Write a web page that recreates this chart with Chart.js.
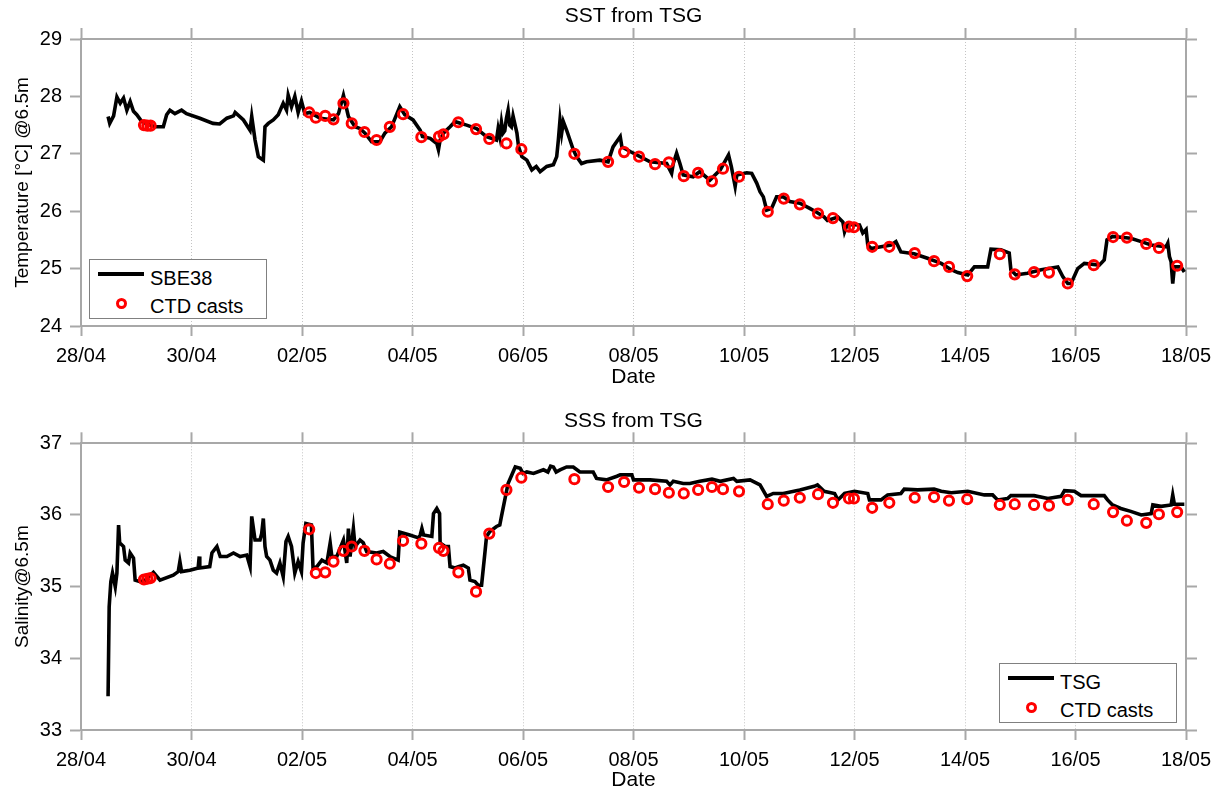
<!DOCTYPE html>
<html><head><meta charset="utf-8">
<script src="https://cdn.jsdelivr.net/npm/chart.js@4.4.1/dist/chart.umd.min.js"></script>
<style>
html,body{margin:0;padding:0;background:#fff;overflow:hidden;}
#wrap{position:relative;width:1221px;height:793px;overflow:hidden;font-family:"Liberation Sans",Arial,sans-serif;}
canvas{position:absolute;left:0;}
.lg{position:absolute;width:178px;height:60px;background:#fff;border:1px solid #808080;box-sizing:border-box;font-size:20px;line-height:24px;color:#000;}
.lg .ln{position:absolute;left:8px;top:12px;width:46px;height:3.5px;background:#000;}
.lg .ci{position:absolute;left:26px;top:38px;width:11px;height:11px;border:3px solid #ff0000;border-radius:50%;box-sizing:border-box;}
.lg .t1{position:absolute;left:60px;top:6px;white-space:nowrap;}
.lg .t2{position:absolute;left:60px;top:34px;white-space:nowrap;}
</style></head>
<body><div id="wrap">
<canvas id="c1" width="1221" height="400" style="top:0"></canvas>
<canvas id="c2" width="1221" height="393" style="top:400px"></canvas>
<div class="lg" style="left:89px;top:259px"><div class="ln"></div><div class="t1">SBE38</div><div class="ci"></div><div class="t2">CTD casts</div></div>
<div class="lg" style="left:999px;top:663px"><div class="ln"></div><div class="t1">TSG</div><div class="ci"></div><div class="t2">CTD casts</div></div>
</div>
<script>
// x values are days since 28/04 00:00
const dateTicks = ['28/04','30/04','02/05','04/05','06/05','08/05','10/05','12/05','14/05','16/05','18/05'];
const tempTicks = [24,25,26,27,28,29];
const salTicks = [33,34,35,36,37];

const sstDays = [0.49,0.52,0.59,0.65,0.71,0.77,0.83,0.89,0.95,1.01,1.10,1.19,1.34,1.49,1.55,1.61,1.70,1.82,1.91,2.15,2.39,2.51,2.64,2.76,2.79,2.94,3.06,3.09,3.15,3.21,3.30,3.33,3.39,3.48,3.57,3.66,3.72,3.75,3.81,3.87,3.93,3.99,4.05,4.14,4.33,4.57,4.66,4.75,4.84,4.96,5.05,5.14,5.26,5.41,5.50,5.62,5.77,5.86,6.01,6.14,6.18,6.32,6.44,6.47,6.50,6.56,6.68,6.77,6.98,7.16,7.34,7.52,7.55,7.58,7.61,7.64,7.67,7.70,7.73,7.76,7.79,7.82,7.89,7.92,7.98,8.07,8.16,8.24,8.31,8.43,8.55,8.61,8.64,8.67,8.70,8.73,8.79,8.85,8.91,8.97,9.06,9.15,9.39,9.54,9.63,9.76,9.79,9.94,10.12,10.30,10.60,10.69,10.72,10.78,10.84,10.90,11.08,11.20,11.38,11.57,11.72,11.77,11.84,11.87,12.05,12.14,12.23,12.29,12.35,12.41,12.50,12.59,12.71,12.83,13.01,13.19,13.30,13.45,13.51,13.70,13.79,13.82,13.87,14.09,14.15,14.21,14.24,14.30,14.48,14.66,14.75,14.84,15.08,15.32,15.57,15.75,15.87,16.05,16.17,16.41,16.47,16.65,16.80,16.83,16.92,17.13,17.38,17.68,17.77,17.86,17.92,18.04,18.16,18.43,18.52,18.57,18.67,19.00,19.19,19.37,19.64,19.67,19.70,19.73,19.76,19.79,19.91,19.97];
const sstVals = [27.65,27.53,27.66,27.99,27.88,27.97,27.76,27.91,27.74,27.68,27.56,27.52,27.47,27.47,27.68,27.76,27.70,27.76,27.70,27.62,27.53,27.52,27.62,27.66,27.72,27.59,27.41,27.65,27.24,26.95,26.89,27.47,27.53,27.59,27.68,27.88,27.76,28.02,27.82,28.00,27.72,27.92,27.70,27.72,27.62,27.59,27.70,28.02,27.65,27.47,27.44,27.36,27.21,27.21,27.36,27.47,27.82,27.68,27.59,27.41,27.30,27.27,27.18,27.07,27.24,27.36,27.47,27.56,27.50,27.44,27.30,27.24,27.44,27.30,27.55,27.36,27.40,27.62,27.76,27.50,27.47,27.66,27.36,27.12,26.95,26.89,26.72,26.78,26.69,26.78,26.81,26.95,27.24,27.59,27.36,27.56,27.41,27.24,27.07,26.95,26.83,26.86,26.89,26.86,27.12,27.30,27.12,27.04,26.95,26.86,26.83,26.66,26.83,27.01,26.83,26.63,26.60,26.69,26.54,26.72,26.98,26.78,26.43,26.63,26.67,26.66,26.49,26.34,26.25,26.02,26.05,26.25,26.25,26.17,26.14,26.05,25.99,25.90,25.84,25.90,25.81,25.64,25.77,25.76,25.62,25.68,25.41,25.35,25.38,25.41,25.47,25.29,25.26,25.18,25.09,24.98,24.93,24.89,25.03,25.03,25.34,25.33,25.27,24.98,24.89,24.92,24.98,25.03,24.86,24.74,24.74,25.00,25.09,25.06,25.15,25.50,25.56,25.53,25.47,25.41,25.38,25.44,25.21,25.12,24.74,25.03,25.03,24.94];

const sssDays = [0.49,0.51,0.54,0.57,0.62,0.65,0.68,0.70,0.77,0.80,0.86,0.89,0.95,0.98,1.07,1.16,1.31,1.43,1.67,1.76,1.79,1.82,1.97,2.12,2.14,2.15,2.33,2.37,2.46,2.52,2.64,2.76,2.88,3.00,3.06,3.09,3.15,3.24,3.27,3.30,3.33,3.36,3.42,3.48,3.54,3.60,3.66,3.71,3.75,3.81,3.87,3.93,3.99,4.02,4.07,4.17,4.20,4.27,4.36,4.45,4.51,4.54,4.63,4.75,4.81,4.84,4.87,4.93,4.96,5.05,5.11,5.17,5.35,5.47,5.59,5.74,5.77,5.95,6.11,6.14,6.17,6.20,6.35,6.38,6.44,6.49,6.50,6.59,6.65,6.68,6.77,6.83,6.92,7.01,7.04,7.13,7.19,7.25,7.31,7.34,7.40,7.52,7.58,7.61,7.67,7.73,7.82,7.86,7.95,8.00,8.07,8.19,8.37,8.45,8.50,8.55,8.60,8.67,8.79,8.91,9.03,9.27,9.33,9.51,9.70,9.76,9.97,10.00,10.30,10.60,10.66,10.72,10.90,11.02,11.20,11.42,11.57,11.81,11.87,12.11,12.29,12.41,12.53,12.71,13.01,13.27,13.33,13.45,13.64,13.70,13.82,14.00,14.24,14.27,14.48,14.60,14.84,14.90,15.14,15.44,15.57,15.75,16.05,16.35,16.50,16.59,16.77,16.83,17.25,17.50,17.74,17.80,17.98,18.10,18.52,18.58,18.67,18.82,19.00,19.19,19.37,19.40,19.55,19.73,19.76,19.79,19.97];
const sssVals = [33.47,34.72,35.07,35.19,35.00,35.19,35.86,35.61,35.56,35.37,35.33,35.47,35.40,35.09,35.07,35.09,35.20,35.09,35.16,35.21,35.35,35.21,35.23,35.26,35.42,35.26,35.28,35.47,35.56,35.42,35.42,35.47,35.42,35.44,35.28,35.98,35.65,35.65,35.74,35.95,35.56,35.42,35.37,35.23,35.19,35.33,35.14,35.63,35.70,35.56,35.19,35.35,35.21,35.61,35.88,35.86,35.25,35.28,35.37,35.33,35.61,35.42,35.42,35.65,35.33,35.81,35.42,35.81,35.56,35.65,35.61,35.49,35.47,35.49,35.42,35.37,35.76,35.72,35.68,35.72,35.81,35.72,35.70,36.02,36.09,36.02,35.61,35.56,35.56,35.28,35.26,35.28,35.30,35.26,35.09,35.07,35.02,35.02,35.47,35.70,35.77,35.84,35.86,35.98,36.21,36.44,36.60,36.67,36.65,36.58,36.60,36.58,36.63,36.60,36.68,36.67,36.60,36.63,36.67,36.67,36.60,36.60,36.51,36.49,36.54,36.56,36.56,36.49,36.49,36.47,36.42,36.47,36.44,36.44,36.47,36.50,36.47,36.51,36.47,36.49,36.42,36.26,36.30,36.30,36.35,36.40,36.42,36.33,36.30,36.21,36.30,36.33,36.30,36.21,36.21,36.28,36.30,36.36,36.35,36.36,36.33,36.31,36.33,36.28,36.28,36.21,36.23,36.27,36.27,36.23,36.26,36.34,36.33,36.27,36.27,36.21,36.14,36.09,36.05,36.00,36.02,36.14,36.12,36.14,36.28,36.15,36.15];

const ctdDays = [1.14,1.20,1.26,4.13,4.25,4.42,4.57,4.75,4.90,5.13,5.35,5.59,5.83,6.16,6.48,6.56,6.83,7.15,7.39,7.70,7.97,8.93,9.54,9.83,10.10,10.39,10.64,10.91,11.17,11.42,11.62,11.91,12.43,12.72,13.01,13.34,13.61,13.90,13.99,14.32,14.63,15.09,15.44,15.71,16.04,16.63,16.90,17.25,17.52,17.86,18.33,18.68,18.93,19.28,19.51,19.84];
const ctdTemp = [27.50,27.49,27.49,27.72,27.63,27.66,27.60,27.88,27.53,27.38,27.24,27.47,27.69,27.29,27.30,27.34,27.55,27.43,27.26,27.18,27.08,27.00,26.86,27.03,26.95,26.82,26.85,26.61,26.67,26.52,26.74,26.60,25.99,26.22,26.12,25.96,25.88,25.73,25.72,25.38,25.38,25.27,25.13,25.03,24.87,25.25,24.90,24.94,24.93,24.74,25.06,25.55,25.54,25.43,25.36,25.05];
const ctdSal = [35.10,35.11,35.12,35.80,35.19,35.20,35.35,35.50,35.56,35.50,35.38,35.32,35.64,35.60,35.54,35.50,35.20,34.93,35.74,36.35,36.52,36.50,36.39,36.46,36.38,36.36,36.31,36.30,36.35,36.39,36.36,36.33,36.15,36.20,36.24,36.29,36.17,36.23,36.23,36.10,36.17,36.24,36.25,36.20,36.22,36.14,36.15,36.14,36.13,36.21,36.15,36.04,35.92,35.89,36.01,36.04];

const FAM = '"Liberation Sans", Arial, sans-serif';
const AX = '#a8a8a8';
Chart.defaults.font.family = FAM;
Chart.defaults.color = '#000';

function pts(xs, ys){ return xs.map((x,i)=>({x:x, y:ys[i]})); }

function makeChart(id, cfg){
  const tickVals = cfg.yTicks;
  return new Chart(document.getElementById(id), {
    type: 'line',
    data: { datasets: [
      { label: 'CTD casts', data: pts(ctdDays, cfg.ctd), showLine: false, order: 0,
        pointRadius: 4.6, pointHoverRadius: 4.6, pointBorderWidth: 3,
        pointBorderColor: '#ff0000', pointBackgroundColor: 'rgba(0,0,0,0)', borderColor: '#ff0000' },
      { label: cfg.lineLabel, data: pts(cfg.days, cfg.vals), order: 1,
        borderColor: '#000', borderWidth: 3.6, pointRadius: 0, tension: 0, fill: false,
        borderJoinStyle: 'miter', borderCapStyle: 'butt' }
    ]},
    options: {
      responsive: false, animation: false, devicePixelRatio: 1,
      layout: { padding: 0 },
      plugins: {
        legend: { display: false }, tooltip: { enabled: false },
        title: { display: true, text: cfg.title, fullSize: false, color: '#000',
          font: { size: 21, weight: 'normal', family: FAM }, padding: { top: cfg.titlePad, bottom: 0 } }
      },
      scales: {
        x: { type: 'linear', position: 'bottom', min: 0, max: 20,
          afterBuildTicks: s => { s.ticks = dateTicks.map((l,i)=>({value: i*2})); },
          ticks: { callback: v => dateTicks[Math.round(v/2)], font: { size: 20 }, color: '#000', padding: 8, maxRotation: 0, autoSkip: false },
          grid: { drawOnChartArea: true, color: '#c4c4c4', lineWidth: 1, drawTicks: true, tickLength: 10, tickColor: AX, tickWidth: 2 },
          border: { display: true, color: AX, width: 2, dash: [1, 2] },
          title: { display: true, text: 'Date', font: { size: 21 }, color: '#000', padding: { top: 0, bottom: cfg.datePad } },
          afterFit: s => { s.height = cfg.xH; } },
        x2: { type: 'linear', position: 'top', min: 0, max: 20,
          afterBuildTicks: s => { s.ticks = dateTicks.map((l,i)=>({value: i*2})); },
          ticks: { display: false },
          grid: { drawOnChartArea: false, drawTicks: true, tickLength: 11, tickColor: AX, tickWidth: 2 },
          border: { display: true, color: AX, width: 2 },
          afterFit: s => { s.height = cfg.x2H; } },
        y: { type: 'linear', position: 'left', min: cfg.yMin, max: cfg.yMax,
          afterBuildTicks: s => { s.ticks = tickVals.map(v=>({value: v})); },
          ticks: { font: { size: 20 }, color: '#000', padding: 8 },
          grid: { drawOnChartArea: false, drawTicks: true, tickLength: 11, tickColor: AX, tickWidth: 2 },
          border: { display: true, color: AX, width: 2 },
          title: { display: true, text: cfg.yTitle, font: { size: 19 }, color: '#000', padding: { top: 11, bottom: 0 } },
          afterFit: s => { s.width = 81; } },
        y2: { type: 'linear', position: 'right', min: cfg.yMin, max: cfg.yMax,
          afterBuildTicks: s => { s.ticks = tickVals.map(v=>({value: v})); },
          ticks: { display: false },
          grid: { drawOnChartArea: false, drawTicks: true, tickLength: 11, tickColor: AX, tickWidth: 2 },
          border: { display: true, color: AX, width: 2 },
          afterFit: s => { s.width = 35; } }
      }
    }
  });
}

makeChart('c1', { title: 'SST from TSG', titlePad: 4, x2H: 9.8, xH: 74, datePad: 10,
  yMin: 24, yMax: 29, yTicks: tempTicks, yTitle: 'Temperature [°C] @6.5m',
  days: sstDays, vals: sstVals, ctd: ctdTemp, lineLabel: 'SBE38' });
makeChart('c2', { title: 'SSS from TSG', titlePad: 9, x2H: 9.1, xH: 63, datePad: 0,
  yMin: 33, yMax: 37, yTicks: salTicks, yTitle: 'Salinity@6.5m',
  days: sssDays, vals: sssVals, ctd: ctdSal, lineLabel: 'TSG' });
</script>
</body></html>
